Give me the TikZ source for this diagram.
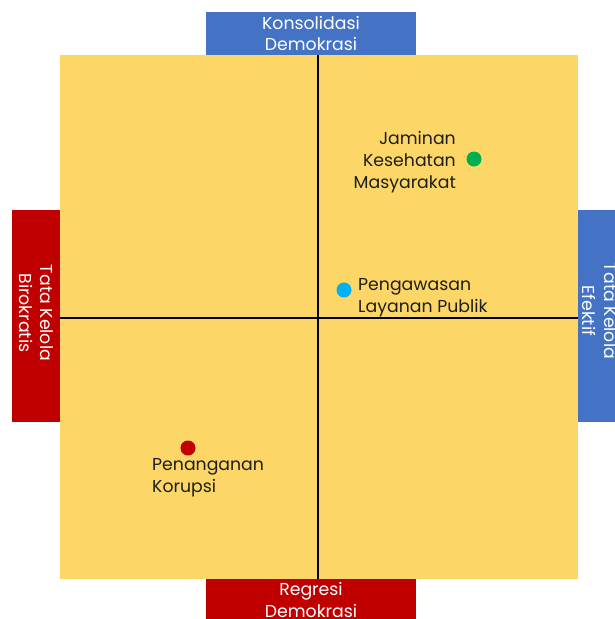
\documentclass[tikz,border=0pt]{standalone}
\usepackage{fontspec}
\setmainfont{Poppins}
\definecolor{kuning}{HTML}{FDD668}
\definecolor{biru}{HTML}{4472C4}
\definecolor{merah}{HTML}{C00000}
\definecolor{hijau}{HTML}{00B050}
\definecolor{birumuda}{HTML}{00B0F0}
\definecolor{teks}{HTML}{1E1E1E}
\begin{document}
\begin{tikzpicture}[x=1pt,y=-1pt,
    kotak/.style={inner sep=0pt,text=white,align=center,font=\fontsize{17.3}{21.5}\selectfont},
    label/.style={inner sep=0pt,text=teks,font=\fontsize{17.3}{22}\selectfont},
    titik/.style={circle,inner sep=0pt,minimum size=15pt}]
\useasboundingbox (0,0) rectangle (614,619);
%kotak judul
\node[kotak,fill=biru,minimum width=210pt,minimum height=43pt] (konsolidasi) at (311,33.5) {Konsolidasi\\Demokrasi};
\node[kotak,fill=merah,minimum width=210pt,minimum height=43pt] (regresi) at (311,600) {Regresi\\Demokrasi};
\node[kotak,fill=merah,minimum width=48pt,minimum height=212pt] (birokratis) at (36,316) {};
\node[kotak,fill=biru,minimum width=48pt,minimum height=212pt] (efektif) at (602,316) {};
\node[kotak,rotate=-90] (birokratisteks) at (36.5,313) {Tata Kelola\\Birokratis};
\node[kotak,rotate=-90] (efektifteks) at (600,311) {Tata Kelola\\Efektif};
%bidang
\node[fill=kuning,inner sep=0pt,minimum width=518pt,minimum height=524pt] (bidang) at (319,317) {};
%sumbu
\draw[line width=1.1pt](bidang.north-|318,0)--(bidang.south-|318,0);
\draw[line width=1.1pt](bidang.west|-0,318)--(bidang.east|-0,318);
%titik dan label
\node[titik,fill=hijau] (jaminan) at (474,159) {};
\node[label,align=right,anchor=east] (jaminanteks) at (456,162) {Jaminan\\Kesehatan\\Masyarakat};
\node[titik,fill=birumuda] (pengawasan) at (344,290) {};
\node[label,align=left,anchor=west] (pengawasanteks) at (358,298) {Pengawasan\\Layanan Publik};
\node[titik,fill=merah] (korupsi) at (188,448) {};
\node[label,align=left,anchor=west] (korupsiteks) at (152,478) {Penanganan\\Korupsi};
\end{tikzpicture}
\end{document}
